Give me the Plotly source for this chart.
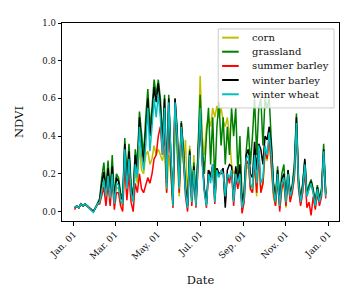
import pandas as pd
import plotly.graph_objects as go

# Observation dates: every 3 days from 2018-01-02
dates = pd.date_range("2018-01-02", periods=121, freq="3D")

corn = [0.02, 0.03, 0.02, 0.04, 0.03, 0.04, 0.03, 0.02, 0.01, 0.0, 0.02, 0.04, 0.05,
        0.10, 0.15, 0.07, 0.17, 0.12, 0.18, 0.05, 0.13,
        0.12, 0.05, 0.03, 0.30, 0.10, 0.25, 0.08, 0.05, 0.22, 0.15,
        0.35, 0.22, 0.20, 0.30, 0.32, 0.25, 0.28, 0.35, 0.30, 0.33,
        0.30, 0.27, 0.33, 0.10, 0.30, 0.20, 0.02, 0.45, 0.30, 0.08,
        0.35, 0.25, 0.38, 0.05, 0.35, 0.05, 0.30, 0.03, 0.30, 0.72,
        0.40, 0.30, 0.45, 0.50, 0.45, 0.55, 0.50, 0.56, 0.50, 0.55,
        0.48, 0.45, 0.50, 0.40, 0.25, 0.20, 0.22, 0.15, 0.20, 0.03,
        0.05, 0.22, 0.25, 0.12, 0.10, 0.25, 0.08, 0.30, 0.10, 0.15,
        0.30, 0.27, 0.38, 0.25, 0.08, 0.03, 0.18, 0.02, 0.13, 0.15,
        0.02, 0.18, 0.06, 0.10, 0.19, 0.45, 0.13, 0.04, 0.11, 0.22,
        0.08, 0.12, 0.14, 0.10, 0.02, 0.11, 0.05, 0.12, 0.30, 0.10]

grassland = [0.02, 0.03, 0.02, 0.04, 0.03, 0.04, 0.03, 0.02, 0.01, 0.0, 0.02, 0.05, 0.07,
             0.18, 0.26, 0.12, 0.27, 0.10, 0.30, 0.08, 0.20,
             0.18, 0.10, 0.07, 0.39, 0.17, 0.36, 0.14, 0.09, 0.33, 0.26,
             0.53, 0.40, 0.30, 0.50, 0.65, 0.45, 0.55, 0.70, 0.62, 0.70,
             0.60, 0.38, 0.62, 0.17, 0.62, 0.30, 0.05, 0.60, 0.44, 0.15,
             0.48, 0.33, 0.13, 0.04, 0.33, 0.07, 0.26, 0.05, 0.30, 0.62,
             0.35, 0.20, 0.40, 0.55, 0.25, 0.50, 0.15, 0.45, 0.58, 0.35,
             0.50, 0.25, 0.45, 0.30, 0.55, 0.40, 0.55, 0.20, 0.40, 0.08,
             0.10, 0.32, 0.45, 0.25, 0.40, 0.60, 0.30, 0.55, 0.60, 0.35,
             0.60, 0.55, 0.60, 0.35, 0.15, 0.08, 0.24, 0.06, 0.20, 0.25,
             0.06, 0.22, 0.10, 0.14, 0.25, 0.52, 0.17, 0.07, 0.15, 0.27,
             0.10, 0.14, 0.17, 0.12, 0.05, 0.14, 0.07, 0.12, 0.36, 0.10]

summer_barley = [0.01, 0.03, 0.02, 0.04, 0.03, 0.04, 0.03, 0.02, 0.01, 0.0, 0.02, 0.04, 0.04,
                 0.08, 0.13, 0.03, 0.15, 0.03, 0.16, 0.01, 0.10,
                 0.10, 0.03, 0.0, 0.25, 0.06, 0.20, 0.05, 0.0, 0.15, 0.10,
                 0.20, 0.12, 0.10, 0.14, 0.18, 0.15, 0.20, 0.28, 0.30, 0.40,
                 0.45, 0.30, 0.42, 0.10, 0.55, 0.22, 0.02, 0.55, 0.38, 0.10,
                 0.42, 0.28, 0.08, 0.0, 0.28, 0.03, 0.20, 0.02, 0.24, 0.45,
                 0.30, 0.12, 0.02, 0.22, 0.20, 0.23, 0.04, 0.23, 0.20, 0.20,
                 0.22, 0.05, 0.20, 0.15, 0.22, 0.03, 0.18, 0.12, 0.20, -0.01,
                 0.05, 0.25, 0.27, 0.12, 0.10, 0.27, 0.10, 0.32, 0.10, 0.15,
                 0.33, 0.28, 0.40, 0.27, 0.10, 0.03, 0.18, 0.0, 0.12, 0.16,
                 0.03, 0.18, 0.05, 0.10, 0.18, 0.45, 0.12, 0.03, 0.10, 0.22,
                 0.02, 0.05, -0.02, 0.08, 0.01, 0.10, 0.03, 0.08, 0.30, 0.07]

winter_barley = [0.02, 0.03, 0.02, 0.04, 0.03, 0.04, 0.03, 0.02, 0.01, 0.0, 0.02, 0.04, 0.06,
                 0.15, 0.21, 0.10, 0.23, 0.09, 0.24, 0.06, 0.18,
                 0.16, 0.08, 0.06, 0.36, 0.15, 0.32, 0.12, 0.07, 0.30, 0.22,
                 0.50, 0.35, 0.26, 0.42, 0.60, 0.40, 0.50, 0.66, 0.58, 0.68,
                 0.56, 0.35, 0.60, 0.15, 0.60, 0.28, 0.04, 0.60, 0.42, 0.14,
                 0.47, 0.32, 0.12, 0.03, 0.32, 0.06, 0.24, 0.04, 0.27, 0.55,
                 0.27, 0.12, 0.04, 0.22, 0.18, 0.25, 0.07, 0.23, 0.20, 0.21,
                 0.23, 0.02, 0.22, 0.25, 0.24, 0.06, 0.24, 0.17, 0.25, 0.04,
                 0.10, 0.30, 0.33, 0.20, 0.18, 0.37, 0.22, 0.36, 0.33, 0.25,
                 0.40, 0.38, 0.45, 0.35, 0.15, 0.06, 0.22, 0.04, 0.17, 0.20,
                 0.06, 0.22, 0.09, 0.13, 0.22, 0.50, 0.16, 0.06, 0.14, 0.28,
                 0.09, 0.13, 0.16, 0.11, 0.04, 0.13, 0.06, 0.11, 0.33, 0.09]

winter_wheat = [0.02, 0.03, 0.02, 0.04, 0.03, 0.04, 0.03, 0.02, 0.01, -0.005, 0.02, 0.04, 0.05,
                0.12, 0.17, 0.08, 0.19, 0.07, 0.20, 0.04, 0.15,
                0.14, 0.06, 0.04, 0.33, 0.12, 0.28, 0.10, 0.05, 0.25, 0.18,
                0.45, 0.30, 0.22, 0.35, 0.55, 0.32, 0.45, 0.60, 0.50, 0.62,
                0.50, 0.30, 0.55, 0.12, 0.58, 0.25, 0.03, 0.58, 0.40, 0.12,
                0.45, 0.30, 0.10, 0.02, 0.30, 0.05, 0.22, 0.03, 0.25, 0.55,
                0.25, 0.10, 0.03, 0.20, 0.15, 0.25, 0.05, 0.22, 0.18, 0.22,
                0.20, 0.08, 0.20, 0.18, 0.22, 0.05, 0.20, 0.15, 0.20, 0.02,
                0.07, 0.28, 0.30, 0.15, 0.12, 0.30, 0.15, 0.35, 0.15, 0.18,
                0.35, 0.30, 0.42, 0.30, 0.12, 0.05, 0.20, 0.03, 0.15, 0.18,
                0.05, 0.20, 0.08, 0.12, 0.20, 0.47, 0.15, 0.05, 0.12, 0.25,
                0.08, 0.12, 0.15, 0.10, 0.03, 0.12, 0.05, 0.10, 0.32, 0.08]

series_names = ["corn", "grassland", "summer barley", "winter barley", "winter wheat"]
series_values = [corn, grassland, summer_barley, winter_barley, winter_wheat]
series_colors = ["#bfbf00", "#008000", "#ff0000", "#000000", "#00bfbf"]

tick_dates = ["2018-01-01", "2018-03-01", "2018-05-01", "2018-07-01",
              "2018-09-01", "2018-11-01", "2019-01-01"]
tick_labels = ["Jan. 01", "Mar. 01", "May. 01", "Jul. 01", "Sep. 01", "Nov. 01", "Jan. 01"]
y_ticks = [0.0, 0.2, 0.4, 0.6, 0.8, 1.0]

FONT = "DejaVu Serif"
TXT = "#111111"

fig = go.Figure()
for name, vals, col in zip(series_names, series_values, series_colors):
    fig.add_trace(go.Scatter(x=dates, y=vals, mode="lines", name=name,
                             line=dict(color=col, width=1.5), showlegend=False))

# Legend drawn in the plot area (matplotlib-style box, upper right)
box = dict(x0=0.564, x1=0.982, y0=0.571, y1=0.970)
fig.add_shape(type="rect", xref="paper", yref="paper", layer="above",
              line=dict(color="#cccccc", width=1), fillcolor="rgba(255,255,255,0.8)", **box)
entry_y = [0.926, 0.855, 0.783, 0.712, 0.640]
for name, col, yy in zip(series_names, series_colors, entry_y):
    fig.add_shape(type="line", xref="paper", yref="paper", layer="above",
                  x0=0.578, x1=0.638, y0=yy, y1=yy, line=dict(color=col, width=2))
    fig.add_annotation(xref="paper", yref="paper", x=0.680, y=yy, text=name,
                       showarrow=False, xanchor="left", yanchor="middle",
                       font=dict(family=FONT, size=10, color=TXT))

fig.update_layout(
    width=352, height=292,
    margin=dict(l=49, r=21, t=10, b=79),
    paper_bgcolor="white", plot_bgcolor="white",
    font=dict(family=FONT, size=9, color=TXT),
    showlegend=False,
)
fig.update_xaxes(
    range=["2017-12-15", "2019-01-16"],
    tickmode="array", tickvals=tick_dates, ticktext=tick_labels, tickangle=-45,
    ticks="outside", ticklen=3.5, tickwidth=0.8, tickcolor="black",
    showline=True, linecolor="black", linewidth=1, mirror=True,
    showgrid=False, zeroline=False,
    title=dict(text="Date", font=dict(family=FONT, size=11.5, color=TXT), standoff=15),
    tickfont=dict(family=FONT, size=9),
)
fig.update_yaxes(
    range=[-0.05, 1.0],
    tickmode="array", tickvals=y_ticks, tickformat=".1f",
    ticks="outside", ticklen=3.5, tickwidth=0.8, tickcolor="black",
    showline=True, linecolor="black", linewidth=1, mirror=True,
    showgrid=False, zeroline=False,
    title=dict(text="NDVI", font=dict(family=FONT, size=11.5, color=TXT), standoff=16),
    tickfont=dict(family=FONT, size=8.5),
)

fig.write_html("out.html")
